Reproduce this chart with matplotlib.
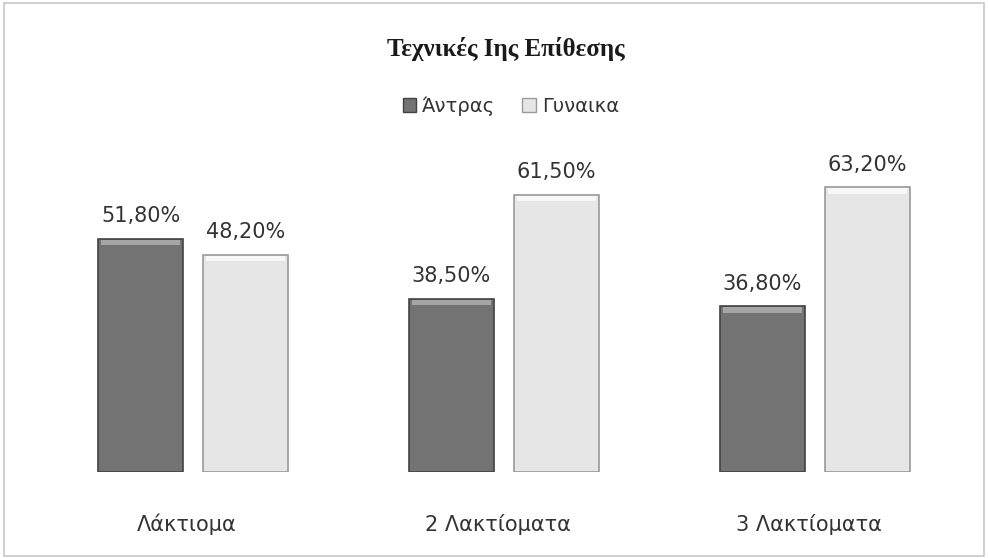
import matplotlib.pyplot as plt
import matplotlib.transforms as mtransforms
import numpy as np
from matplotlib.patches import Rectangle, Patch

categories = ["Λάκτιομα", "2 Λακτίοματα", "3 Λακτίοματα"]
men = [51.8, 38.5, 36.8]
women = [48.2, 61.5, 63.2]
series_names = ["Άντρας", "Γυναικα"]
title = "Τεχνικές Ιης Επίθεσης"

plt.rcParams['font.family'] = ['DejaVu Sans']

fig = plt.figure(figsize=(9.88, 5.58), dpi=100)
fig.patches.append(Rectangle((0.004, 0.004), 0.992, 0.99, transform=fig.transFigure,
                             fill=False, edgecolor='#c8c8c8', linewidth=1.2))

# axes: x 38..970 px, y 150..472 px
ax = fig.add_axes([38 / 988, (558 - 472) / 558, 932 / 988, 322 / 558])
x = np.arange(len(categories))
w = 0.274
off = 0.169

b1 = ax.bar(x - off, men, w, color='#737373', edgecolor='#424242', linewidth=1.2)
b2 = ax.bar(x + off, women, w, color='#e6e6e6', edgecolor='#9a9a9a', linewidth=1.2)

# bevel highlight on top of bars
for bars, hl in ((b1, '#a5a5a5'), (b2, '#f7f7f7')):
    for r in bars:
        ax.add_patch(Rectangle((r.get_x() + 0.01, r.get_height() - 1.4), r.get_width() - 0.02, 1.2,
                               facecolor=hl, edgecolor='none'))

for bars, vals in ((b1, men), (b2, women)):
    for r, v in zip(bars, vals):
        ax.annotate(f"{v:.2f}%".replace('.', ','), (r.get_x() + r.get_width() / 2, v),
                    xytext=(0, 12), textcoords='offset points', ha='center', va='baseline',
                    fontsize=15, color='#333333')

ax.set_xlim(-0.5, 2.5)
ax.set_ylim(0, 71.5)
ax.set_xticks([])
ax.set_yticks([])
for s in ax.spines.values():
    s.set_visible(False)

trans = mtransforms.blended_transform_factory(ax.transData, ax.transAxes)
for xi, c in zip(x, categories):
    ax.text(xi - 0.02, -0.183, c, transform=trans, ha='center', va='baseline',
            fontsize=15, color='#333333')

fig.text(0.512, 1 - 56 / 558, title, ha='center', va='baseline', fontsize=18,
         fontweight='bold', family=['Liberation Serif', 'DejaVu Serif'], color='#1a1a1a')

handles = [Patch(facecolor='#737373', edgecolor='#424242'),
           Patch(facecolor='#e6e6e6', edgecolor='#9a9a9a')]
fig.legend(handles, series_names, loc='center', bbox_to_anchor=(0.517, 1 - 106 / 558),
           ncol=2, frameon=False, fontsize=14, handlelength=0.7, handleheight=0.7,
           handletextpad=0.3, columnspacing=1.4, labelcolor='#333333')

fig.savefig('out.png', dpi=100)
